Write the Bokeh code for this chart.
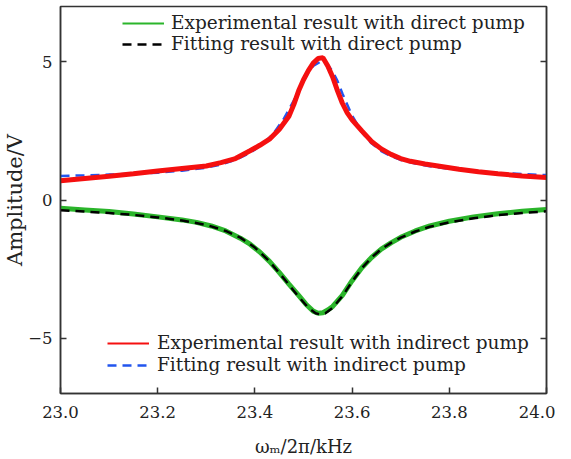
from bokeh.plotting import figure
from bokeh.models import Legend, LegendItem, LinearAxis, FixedTicker, Range1d
from bokeh.embed import file_html
from bokeh.resources import INLINE

# --- data ---
red_x = [23.00, 23.05, 23.10, 23.15, 23.20, 23.25, 23.30, 23.33, 23.36, 23.39, 23.41, 23.43,
         23.45, 23.47, 23.48, 23.49, 23.50, 23.51, 23.52, 23.53, 23.54, 23.55, 23.56, 23.57,
         23.58, 23.59, 23.60, 23.62, 23.64, 23.66, 23.68, 23.70, 23.72, 23.75, 23.78, 23.82,
         23.86, 23.90, 23.95, 24.00]
red_y = [0.70, 0.78, 0.86, 0.95, 1.05, 1.14, 1.23, 1.35, 1.50, 1.78, 1.98, 2.20,
         2.55, 3.03, 3.45, 3.95, 4.35, 4.68, 4.95, 5.12, 5.15, 4.85, 4.45, 3.95,
         3.50, 3.15, 2.90, 2.50, 2.12, 1.85, 1.65, 1.50, 1.40, 1.30, 1.22, 1.11,
         1.02, 0.95, 0.87, 0.81]

blue_x = [23.00, 23.05, 23.10, 23.15, 23.20, 23.25, 23.30, 23.33, 23.36, 23.39, 23.42, 23.44,
          23.46, 23.48, 23.50, 23.51, 23.52, 23.535, 23.55, 23.56, 23.57, 23.58, 23.60, 23.62,
          23.64, 23.66, 23.68, 23.70, 23.73, 23.76, 23.80, 23.85, 23.90, 23.95, 24.00]
blue_y = [0.87, 0.89, 0.92, 0.95, 0.99, 1.06, 1.17, 1.28, 1.45, 1.70, 2.08, 2.45,
          2.95, 3.60, 4.30, 4.62, 4.85, 5.00, 4.88, 4.65, 4.30, 3.85, 3.05, 2.45,
          2.05, 1.77, 1.58, 1.45, 1.32, 1.22, 1.13, 1.05, 0.98, 0.94, 0.90]

green_x = [23.00, 23.05, 23.10, 23.15, 23.20, 23.25, 23.28, 23.31, 23.34, 23.37, 23.39, 23.41,
           23.43, 23.45, 23.47, 23.49, 23.505, 23.52, 23.53, 23.54, 23.55, 23.56, 23.58, 23.60,
           23.62, 23.64, 23.66, 23.68, 23.70, 23.73, 23.76, 23.80, 23.85, 23.90, 23.95, 24.00]
green_y = [-0.30, -0.36, -0.42, -0.51, -0.61, -0.72, -0.81, -0.94, -1.12, -1.38, -1.60, -1.88,
           -2.22, -2.62, -3.04, -3.45, -3.77, -4.02, -4.10, -4.08, -3.98, -3.85, -3.45, -2.92,
           -2.45, -2.08, -1.78, -1.55, -1.35, -1.12, -0.94, -0.77, -0.61, -0.50, -0.41, -0.34]

black_x = [23.00, 23.05, 23.10, 23.15, 23.20, 23.25, 23.30, 23.34, 23.37, 23.40, 23.43, 23.46,
           23.49, 23.51, 23.525, 23.535, 23.545, 23.56, 23.58, 23.60, 23.62, 23.64, 23.66, 23.68,
           23.70, 23.73, 23.76, 23.80, 23.85, 23.90, 23.95, 24.00]
black_y = [-0.37, -0.42, -0.47, -0.54, -0.63, -0.74, -0.90, -1.12, -1.36, -1.72, -2.22, -2.85,
           -3.50, -3.90, -4.10, -4.14, -4.10, -3.90, -3.48, -2.95, -2.47, -2.08, -1.78, -1.55,
           -1.36, -1.14, -0.97, -0.81, -0.66, -0.55, -0.47, -0.41]

x_ticks = [23.0, 23.2, 23.4, 23.6, 23.8, 24.0]
x_tick_labels = ["23.0", "23.2", "23.4", "23.6", "23.8", "24.0"]
y_ticks = [-5, 0, 5]
y_tick_labels = ["\u22125", "0", "5"]

label_top_1 = "Experimental result with direct pump"
label_top_2 = "Fitting result with direct pump"
label_bot_1 = "Experimental result with indirect pump"
label_bot_2 = "Fitting result with indirect pump"

FONT = "DejaVu Serif"
AX = "#333333"
GREEN = "#2bb52b"
RED = "#f51010"
BLUE = "#2255ee"

p = figure(width=555, height=459, output_backend="svg", toolbar_location=None,
           x_range=Range1d(23.0, 24.0), y_range=Range1d(-7, 7),
           min_border_left=55, min_border_right=9, min_border_top=6, min_border_bottom=10)
p.grid.visible = False
p.background_fill_color = "white"
p.outline_line_color = AX
p.outline_line_width = 1.5

p.line(green_x, green_y, line_color=GREEN, line_width=5)
g = p.line(green_x, green_y, line_color=GREEN, line_width=2)
k = p.line(black_x, black_y, line_color="black", line_width=2.5, line_dash="9 6")
b = p.line(blue_x, blue_y, line_color=BLUE, line_width=2.5, line_dash="9 6")
p.line(red_x, red_y, line_color=RED, line_width=5)
r = p.line(red_x, red_y, line_color=RED, line_width=2)

for ax in (p.xaxis[0], p.yaxis[0]):
    ax.axis_line_color = AX
    ax.axis_line_width = 1.5
    ax.major_tick_line_color = AX
    ax.major_tick_line_width = 1.5
    ax.major_tick_in = 6
    ax.major_tick_out = 0
    ax.minor_tick_line_color = None
    ax.major_label_text_font = FONT
    ax.major_label_text_font_size = "16.5px"
    ax.major_label_text_color = "#222222"
    ax.axis_label_text_font = FONT
    ax.axis_label_text_font_style = "normal"
    ax.axis_label_text_color = "#222222"

p.xaxis[0].ticker = FixedTicker(ticks=x_ticks)
p.xaxis[0].major_label_overrides = dict(zip(x_ticks, x_tick_labels))
p.xaxis[0].major_label_standoff = 12
p.xaxis[0].axis_label = "\u03c9\u2098/2\u03c0/kHz"
p.xaxis[0].axis_label_text_font_size = "18px"
p.xaxis[0].axis_label_standoff = 15

p.yaxis[0].ticker = FixedTicker(ticks=y_ticks)
p.yaxis[0].major_label_overrides = dict(zip(y_ticks, y_tick_labels))
p.yaxis[0].major_label_standoff = 8
p.yaxis[0].axis_label = "Amplitude/V"
p.yaxis[0].axis_label_text_font_size = "21px"
p.yaxis[0].axis_label_text_line_height = 1.0
p.yaxis[0].axis_label_standoff = -2

ra = LinearAxis(ticker=FixedTicker(ticks=y_ticks), axis_line_color=AX, axis_line_width=1.5,
                major_tick_line_color=AX, major_tick_line_width=1.5, major_tick_in=6,
                major_tick_out=0, minor_tick_line_color=None, major_label_text_color=None,
                major_label_text_font_size="0px", major_label_standoff=0)
p.add_layout(ra, "right")

leg_top = Legend(items=[LegendItem(label=label_top_1, renderers=[g]),
                        LegendItem(label=label_top_2, renderers=[k])],
                 location=(62, 339))
leg_bot = Legend(items=[LegendItem(label=label_bot_1, renderers=[r]),
                        LegendItem(label=label_bot_2, renderers=[b])],
                 location=(47, 18))
for lg, gh, sp, st in ((leg_top, 20, 0, 7), (leg_bot, 20, 1, 8)):
    lg.border_line_color = None
    lg.background_fill_alpha = 0
    lg.padding = 0
    lg.margin = 0
    lg.glyph_width = 42
    lg.glyph_height = gh
    lg.spacing = sp
    lg.label_standoff = st
    lg.label_height = gh
    lg.label_text_font = FONT
    lg.label_text_font_size = "18.5px"
    lg.label_text_color = "#222222"
    p.add_layout(lg, "center")

open("out.html", "w").write(file_html(p, INLINE))
